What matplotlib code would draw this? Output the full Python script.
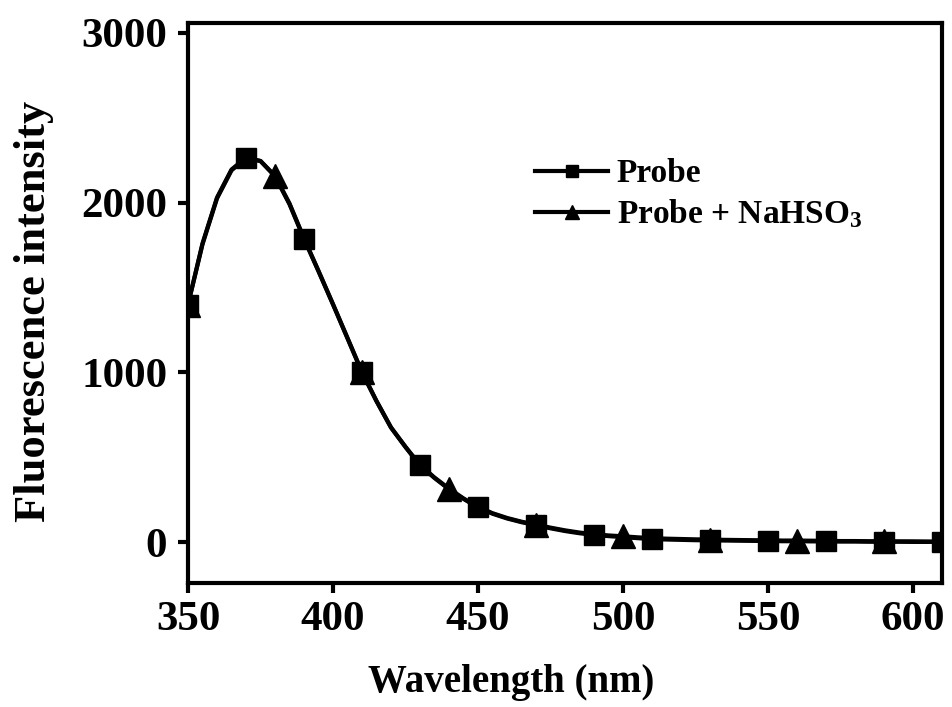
import numpy as np
import matplotlib
matplotlib.use('Agg')
import matplotlib.pyplot as plt

# wavelength grid (nm), 5 nm steps
wavelength = list(range(350, 615, 5))

# Probe
probe = [1400, 1760, 2030, 2195, 2265, 2245, 2155, 1990, 1786, 1595,
         1400, 1200, 1000, 830, 675, 560, 452, 378, 312, 255,
         205, 168, 140, 118, 100, 82, 66, 53, 43, 36,
         30, 24, 19, 16, 14, 12, 11, 10, 9, 8,
         7, 6, 6, 5, 5, 4, 4, 3, 3, 3,
         2, 2, 2]

# Probe + NaHSO3
probe_nahso3 = [1400, 1755, 2025, 2190, 2262, 2245, 2158, 1995, 1790, 1598,
                1402, 1203, 1002, 832, 676, 562, 455, 381, 316, 258,
                208, 171, 143, 121, 104, 86, 70, 57, 47, 40,
                35, 29, 24, 21, 19, 17, 16, 14, 13, 12,
                11, 10, 10, 9, 8, 7, 7, 6, 6, 5,
                5, 4, 4]

x_ticks = [350, 400, 450, 500, 550, 600]
y_ticks = [0, 1000, 2000, 3000]

plt.rcParams['font.family'] = ['Liberation Serif', 'DejaVu Serif']
plt.rcParams['font.weight'] = 'bold'
plt.rcParams['mathtext.fontset'] = 'custom'
plt.rcParams['mathtext.rm'] = 'Liberation Serif:bold'
plt.rcParams['mathtext.it'] = 'Liberation Serif:bold'
plt.rcParams['mathtext.bf'] = 'Liberation Serif:bold'

fig = plt.figure(figsize=(9.52, 7.07), dpi=100)
ax = fig.add_axes([0.1975, 0.1754, 0.792, 0.7926])

ax.plot(wavelength, probe, color='black', lw=3, marker='s', markersize=14,
        markevery=4, label='Probe')
ax.plot(wavelength, probe_nahso3, color='black', lw=3, marker='^', markersize=17,
        markevery=6, label='Probe + NaHSO$_3$')

ax.set_xlim(350, 610)
ax.set_ylim(-240, 3060)
ax.set_xticks(x_ticks)
ax.set_yticks(y_ticks)

for s in ax.spines.values():
    s.set_linewidth(3)
ax.tick_params(direction='out', length=7, width=3, labelsize=31)
ax.tick_params(axis='x', pad=6)
ax.tick_params(axis='y', pad=8)

ax.set_xlabel('Wavelength (nm)', fontsize=28, fontweight='bold')
ax.xaxis.set_label_coords(0.428, -0.145)
ax.set_ylabel('Fluorescence intensity', fontsize=32, fontweight='bold')
ax.yaxis.set_label_coords(-0.178, 0.485)

leg = ax.legend(loc='upper left', bbox_to_anchor=(0.46, 0.758), frameon=False,
                fontsize=24, markerscale=0.6, handlelength=2.2, handletextpad=0.25,
                labelspacing=0.25, borderpad=0, borderaxespad=0)

fig.savefig('out.png', dpi=100)
